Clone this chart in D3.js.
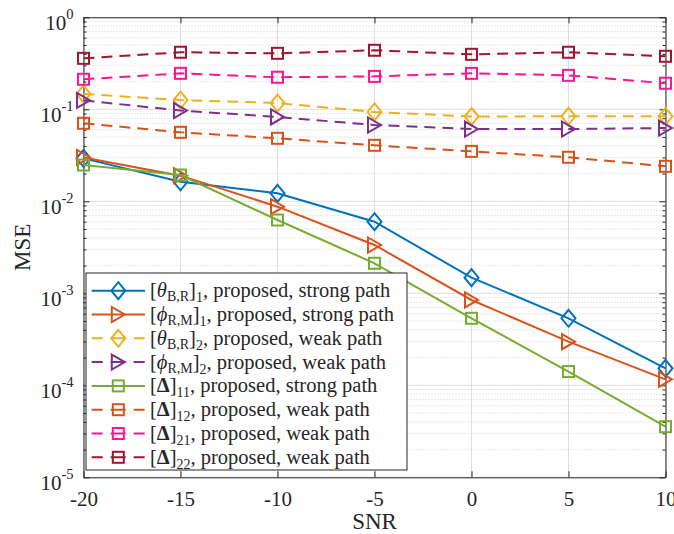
<!DOCTYPE html>
<html>
<head>
<meta charset="utf-8">
<script src="https://cdn.jsdelivr.net/npm/d3@7"></script>
<style>
  body { margin: 0; background: #fff; }
  svg text { font-family: "Liberation Serif", "Times New Roman", serif; fill: #262626; }
</style>
</head>
<body>
<div class="container"></div>
<script>
var snr = [-20, -15, -10, -5, 0, 5, 10];
var theta1 = [0.0293, 0.0163, 0.0122, 0.0060, 0.00148, 0.000535, 0.000153];
var phi1 = [0.0300, 0.0190, 0.00874, 0.00335, 0.000846, 0.000298, 0.000116];
var theta2 = [0.147, 0.126, 0.117, 0.0935, 0.0835, 0.084, 0.084];
var phi2 = [0.125, 0.097, 0.0825, 0.0675, 0.061, 0.061, 0.0626];
var delta11 = [0.0248, 0.0193, 0.00626, 0.00212, 0.000535, 0.000141, 0.0000355];
var delta12 = [0.0705, 0.0562, 0.0484, 0.0406, 0.0349, 0.0301, 0.0240];
var delta21 = [0.212, 0.246, 0.223, 0.228, 0.246, 0.234, 0.192];
var delta22 = [0.358, 0.417, 0.406, 0.438, 0.396, 0.417, 0.377];

var xTicks = [-20, -15, -10, -5, 0, 5, 10];
var yTicks = [1e-5, 1e-4, 1e-3, 1e-2, 1e-1, 1];

var series = [
    {values: theta1, color: '#0072BD', marker: 'diamond', dashed: false, sym: 'θ', bold: false, sub: 'B,R', idx: '1', rest: ', proposed, strong path'},
    {values: phi1, color: '#D95319', marker: 'triangle', dashed: false, sym: 'ϕ', bold: false, sub: 'R,M', idx: '1', rest: ', proposed, strong path'},
    {values: theta2, color: '#EDB120', marker: 'diamond', dashed: true, sym: 'θ', bold: false, sub: 'B,R', idx: '2', rest: ', proposed, weak path'},
    {values: phi2, color: '#7E2F8E', marker: 'triangle', dashed: true, sym: 'ϕ', bold: false, sub: 'R,M', idx: '2', rest: ', proposed, weak path'},
    {values: delta11, color: '#77AC30', marker: 'square', dashed: false, sym: 'Δ', bold: true, sub: '', idx: '11', rest: ', proposed, strong path'},
    {values: delta12, color: '#D95319', marker: 'square', dashed: true, sym: 'Δ', bold: true, sub: '', idx: '12', rest: ', proposed, weak path'},
    {values: delta21, color: '#FF1493', marker: 'square', dashed: true, sym: 'Δ', bold: true, sub: '', idx: '21', rest: ', proposed, weak path'},
    {values: delta22, color: '#A2142F', marker: 'square', dashed: true, sym: 'Δ', bold: true, sub: '', idx: '22', rest: ', proposed, weak path'}
];

var width = 674, height = 534;
var margin = {left: 83.5, right: 8.5, top: 17.3, bottom: 56.7};
var innerW = width - margin.left - margin.right;
var innerH = height - margin.top - margin.bottom;

var translate = (x, y) => `translate(${ x },${ y })`;

var x = d3.scaleLinear().domain([-20, 10]).range([0, innerW]);
var y = d3.scaleLog().domain([1e-5, 1]).range([innerH, 0]);

var minorTicks = [];
yTicks.slice(0, -1).forEach(d => { for (var k = 2; k <= 9; k++) minorTicks.push(d * k); });

var svg = d3.select('.container').append('svg')
    .attr('width', width)
    .attr('height', height);

var g = svg.append('g').attr('transform', translate(margin.left, margin.top));

// grid
g.append('g').selectAll('line').data(minorTicks).enter().append('line')
    .attr('x1', 0).attr('x2', innerW)
    .attr('y1', d => y(d)).attr('y2', d => y(d))
    .attr('stroke', '#c8c8c8').attr('stroke-width', 0.8).attr('stroke-dasharray', '1,2');
g.append('g').selectAll('line').data(yTicks).enter().append('line')
    .attr('x1', 0).attr('x2', innerW)
    .attr('y1', d => y(d)).attr('y2', d => y(d))
    .attr('stroke', '#dedede').attr('stroke-width', 1);
g.append('g').selectAll('line').data(xTicks).enter().append('line')
    .attr('y1', 0).attr('y2', innerH)
    .attr('x1', d => x(d)).attr('x2', d => x(d))
    .attr('stroke', '#dedede').attr('stroke-width', 1);

// axes
var styleAxis = sel => {
    sel.attr('font-family', null);
    sel.selectAll('path, line').attr('stroke', '#262626').attr('stroke-width', 1);
};

var xAxis = g.append('g').attr('transform', translate(0, innerH))
    .call(d3.axisBottom(x).tickValues(xTicks).tickSize(-6).tickSizeOuter(0).tickPadding(13.5).tickFormat(d => String(d)))
    .call(styleAxis);
xAxis.selectAll('text').attr('font-size', 21);

g.append('g')
    .call(d3.axisTop(x).tickValues(xTicks).tickSize(-6).tickSizeOuter(0).tickFormat(''))
    .call(styleAxis);

var yAxis = g.append('g')
    .call(d3.axisLeft(y).tickValues(yTicks).tickSize(-6).tickSizeOuter(0).tickPadding(10).tickFormat(''))
    .call(styleAxis);
yAxis.selectAll('.tick text').each(function(d) {
    var t = d3.select(this).attr('font-size', 21).attr('y', 5);
    t.append('tspan').text('10');
    t.append('tspan').attr('font-size', 14.5).attr('dy', '-0.75em').text(Math.round(Math.log10(d)));
});
g.append('g')
    .call(d3.axisLeft(y).tickValues(minorTicks).tickSize(-3).tickSizeOuter(0).tickFormat(''))
    .call(styleAxis).select('.domain').remove();

g.append('g').attr('transform', translate(innerW, 0))
    .call(d3.axisRight(y).tickValues(yTicks).tickSize(-6).tickSizeOuter(0).tickFormat(''))
    .call(styleAxis);
g.append('g').attr('transform', translate(innerW, 0))
    .call(d3.axisRight(y).tickValues(minorTicks).tickSize(-3).tickSizeOuter(0).tickFormat(''))
    .call(styleAxis).select('.domain').remove();

// axis titles
svg.append('text')
    .attr('transform', translate(30, margin.top + innerH / 2) + ' rotate(-90)')
    .attr('text-anchor', 'middle')
    .attr('font-size', 23)
    .text('MSE');
svg.append('text')
    .attr('x', margin.left + innerW / 2).attr('y', 529)
    .attr('text-anchor', 'middle')
    .attr('font-size', 23)
    .text('SNR');

// markers
var drawMarker = (sel, type, color) => {
    if (type === 'square') {
        sel.append('rect').attr('x', -5.5).attr('y', -5.5).attr('width', 11).attr('height', 11);
    } else if (type === 'diamond') {
        sel.append('path').attr('d', 'M0,-8.5L7,0L0,8.5L-7,0Z');
    } else {
        sel.append('path').attr('d', 'M-6.5,-7.5L6.5,0L-6.5,7.5Z');
    }
    sel.selectAll('rect, path').attr('fill', 'none').attr('stroke', color).attr('stroke-width', 2);
};

var line = d3.line()
    .x((d, i) => x(snr[i]))
    .y(d => y(d));

series.forEach(s => {
    var sg = g.append('g');
    sg.append('path')
        .attr('d', line(s.values))
        .attr('fill', 'none')
        .attr('stroke', s.color)
        .attr('stroke-width', 2)
        .attr('stroke-dasharray', s.dashed ? '11,7' : null);
    s.values.forEach((v, i) => {
        drawMarker(sg.append('g').attr('transform', translate(x(snr[i]), y(v))), s.marker, s.color);
    });
});

// legend
var lg = svg.append('g').attr('transform', translate(86, 273));
lg.append('rect')
    .attr('width', 321).attr('height', 197)
    .attr('fill', '#fff').attr('stroke', '#262626').attr('stroke-width', 1);

var rowH = 23.8;
series.forEach((s, i) => {
    var ry = 17.7 + i * rowH;
    var row = lg.append('g').attr('transform', translate(0, ry));
    row.append('line')
        .attr('x1', 5.7).attr('x2', 59).attr('y1', 0).attr('y2', 0)
        .attr('stroke', s.color).attr('stroke-width', 2)
        .attr('stroke-dasharray', s.dashed ? '11,8,15,8,11' : null);
    drawMarker(row.append('g').attr('transform', translate(32.3, 0)), s.marker, s.color);

    var t = row.append('text').attr('x', 64).attr('y', 6.5).attr('font-size', 20.5);
    t.append('tspan').text('[');
    var sym = t.append('tspan').text(s.sym);
    if (s.bold) sym.attr('font-weight', 'bold');
    else sym.attr('font-style', 'italic');
    if (s.sub) t.append('tspan').attr('font-size', 14).attr('dy', 4).text(s.sub);
    t.append('tspan').attr('dy', s.sub ? -4 : 0).text(']');
    t.append('tspan').attr('font-size', 14).attr('dy', 5).text(s.idx);
    t.append('tspan').attr('dy', -5).text(s.rest);
});
</script>
</body>
</html>
